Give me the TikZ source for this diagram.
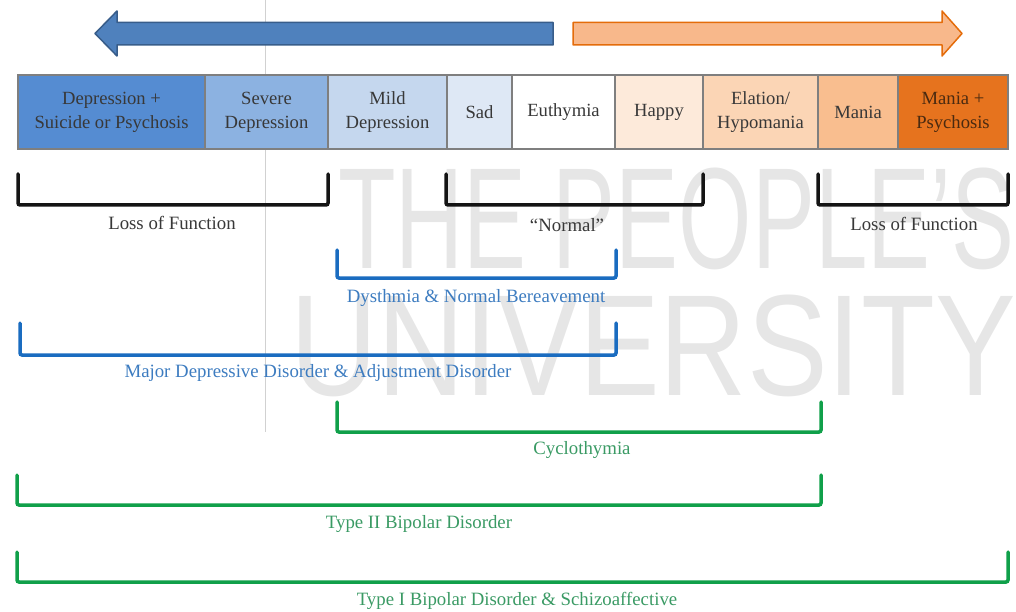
\documentclass[tikz,border=0pt]{standalone}
\usepackage{fontspec}
\usepackage{graphicx}
\setmainfont{Liberation Serif}
\newfontfamily\wmfont{Liberation Sans}
\definecolor{boxline}{HTML}{7F7F7F}
\definecolor{boxtext}{HTML}{383838}
\definecolor{cA}{HTML}{558CD2}
\definecolor{cB}{HTML}{8CB2E1}
\definecolor{cC}{HTML}{C5D7EE}
\definecolor{cD}{HTML}{DEE8F5}
\definecolor{cE}{HTML}{FFFFFF}
\definecolor{cF}{HTML}{FDEADA}
\definecolor{cG}{HTML}{FBD5B5}
\definecolor{cH}{HTML}{F9BE8F}
\definecolor{cI}{HTML}{E6731E}
\definecolor{arrBlueFill}{HTML}{4F81BD}
\definecolor{arrBlueLine}{HTML}{385D8A}
\definecolor{arrOrFill}{HTML}{F8B88B}
\definecolor{arrOrLine}{HTML}{E46C0A}
\definecolor{brBlue}{HTML}{1A6CC0}
\definecolor{brGreen}{HTML}{10A04A}
\definecolor{txBlue}{HTML}{3D7CC0}
\definecolor{txGreen}{HTML}{3A9A64}
\definecolor{wmgray}{HTML}{E6E6E6}
\definecolor{darkbrown}{HTML}{4A2A10}
\begin{document}
\begin{tikzpicture}[x=1pt,y=-1pt,
  box/.style={draw=boxline, line width=1.4pt, minimum height=74pt, inner sep=0pt,
    align=center, text=boxtext, font=\fontsize{18.6}{24}\selectfont},
  brk/.style={line width=3.5pt, rounded corners=2pt, line cap=round},
  lbl/.style={font=\fontsize{18.8}{22}\selectfont, inner sep=0pt},
  wm/.style={text=wmgray, inner sep=0pt, font=\wmfont\fontsize{144}{144}\selectfont}]
\useasboundingbox (0,0) rectangle (1016,612);
% watermark
\draw[black!18, line width=0.8pt] (265,0) -- (265,432);
\node[wm, anchor=base west] (wm1) at (338,268) {\scalebox{0.655}[1]{THE PEOPLE’S}};
\node[wm, anchor=base west] (wm2) at (290,395) {\scalebox{0.84}[1]{UNIVERSITY}};
% arrows
\draw[fill=arrBlueFill, draw=arrBlueLine, line width=1.5pt, line join=round]
  (553,22.5) -- (117,22.5) -- (117,11) -- (95,33.5) -- (117,56) -- (117,45) -- (553,45) -- cycle;
\draw[fill=arrOrFill, draw=arrOrLine, line width=1.5pt, line join=round]
  (573,22.5) -- (942,22.5) -- (942,11) -- (962,33.5) -- (942,56) -- (942,45) -- (573,45) -- cycle;
% boxes
\node[box, fill=cA, minimum width=187pt] (b1) at (111.5,112) {Depression +\\Suicide or Psychosis};
\node[box, fill=cB, minimum width=123pt] (b2) at (266.5,112) {Severe\\Depression};
\node[box, fill=cC, minimum width=119pt] (b3) at (387.5,112) {Mild\\Depression};
\node[box, fill=cD, minimum width=65pt] (b4) at (479.5,112) {Sad};
\node[box, fill=cE, minimum width=103pt] (b5) at (563.5,112) {Euthymia};
\node[box, fill=cF, minimum width=88pt] (b6) at (659,112) {Happy};
\node[box, fill=cG, minimum width=115pt] (b7) at (760.5,112) {Elation/\\Hypomania};
\node[box, fill=cH, minimum width=80pt] (b8) at (858,112) {Mania};
\node[box, fill=cI, minimum width=110pt, text=darkbrown] (b9) at (953,112) {Mania +\\Psychosis};
% black brackets
\coordinate (k1a) at (18,174);  \coordinate (k1b) at (328,205);
\coordinate (k2a) at (446,174); \coordinate (k2b) at (703,205);
\coordinate (k3a) at (818,174); \coordinate (k3b) at (1008,205);
\draw[brk, black!92] (k1a) |- (k1b) -- (k1b |- k1a);
\draw[brk, black!92] (k2a) |- (k2b) -- (k2b |- k2a);
\draw[brk, black!92] (k3a) |- (k3b) -- (k3b |- k3a);
\node[lbl, text=boxtext] (t1) at (172,223) {Loss of Function};
\node[lbl, text=boxtext] (t2) at (567,225) {“Normal”};
\node[lbl, text=boxtext] (t3) at (914,224) {Loss of Function};
% blue brackets
\coordinate (d1a) at (337,250); \coordinate (d1b) at (616,278);
\coordinate (d2a) at (20,323);  \coordinate (d2b) at (616,355);
\draw[brk, brBlue] (d1a) |- (d1b) -- (d1b |- d1a);
\draw[brk, brBlue] (d2a) |- (d2b) -- (d2b |- d2a);
\node[lbl, text=txBlue] (t4) at (476,298) {Dysthmia \& Normal Bereavement};
\node[lbl, text=txBlue] (t5) at (318,373) {Major Depressive Disorder \& Adjustment Disorder};
% green brackets
\coordinate (g1a) at (337,402); \coordinate (g1b) at (821,432);
\coordinate (g2a) at (17,475);  \coordinate (g2b) at (821,505);
\coordinate (g3a) at (17,552);  \coordinate (g3b) at (1008,582);
\draw[brk, brGreen] (g1a) |- (g1b) -- (g1b |- g1a);
\draw[brk, brGreen] (g2a) |- (g2b) -- (g2b |- g2a);
\draw[brk, brGreen] (g3a) |- (g3b) -- (g3b |- g3a);
\node[lbl, text=txGreen] (t6) at (582,450) {Cyclothymia};
\node[lbl, text=txGreen] (t7) at (419,524) {Type II Bipolar Disorder};
\node[lbl, text=txGreen] (t8) at (517,601) {Type I Bipolar Disorder \& Schizoaffective};
\end{tikzpicture}
\end{document}
